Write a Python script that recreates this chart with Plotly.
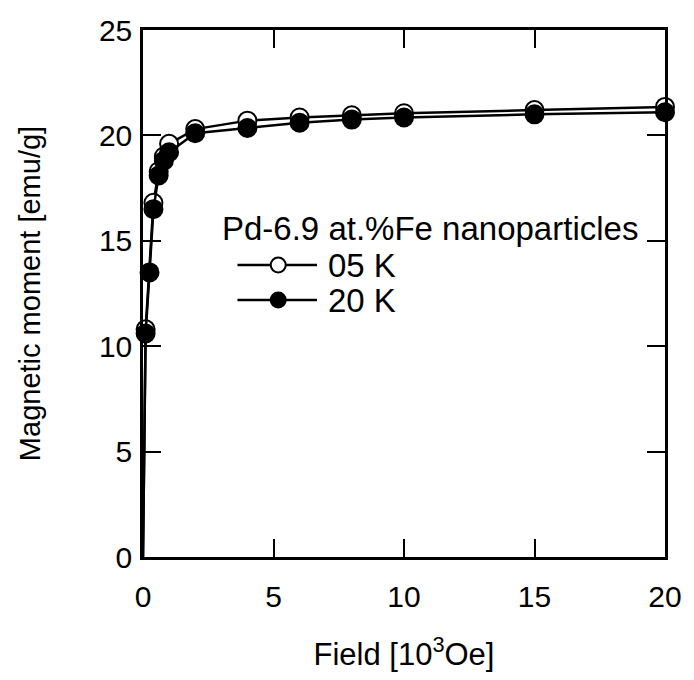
import plotly.graph_objects as go

# Magnetisation curves of Pd-Fe nanoparticles
field_05K = [0, 0.1, 0.4, 0.6, 0.8, 1.0, 2, 4, 6, 8, 10, 15, 20]
moment_05K = [0, 10.8, 16.8, 18.3, 19.0, 19.6, 20.3, 20.7, 20.85, 20.95, 21.05, 21.2, 21.35]

field_20K = [0, 0.1, 0.25, 0.4, 0.6, 0.8, 1.0, 2, 4, 6, 8, 10, 15, 20]
moment_20K = [0, 10.6, 13.5, 16.5, 18.1, 18.8, 19.2, 20.1, 20.35, 20.6, 20.75, 20.85, 21.0, 21.1]

x_ticks = [0, 5, 10, 15, 20]
y_ticks = [0, 5, 10, 15, 20, 25]

legend_title = "Pd-6.9 at.%Fe nanoparticles"
series_names = ["05 K", "20 K"]

FONT = "Liberation Sans, Arial, sans-serif"
MS = 18
fills = ["white", "black"]

fig = go.Figure()

# each curve: a line from the origin, markers on the measured points only
for xs, ys, fill, name in [(field_05K, moment_05K, fills[0], series_names[0]),
                           (field_20K, moment_20K, fills[1], series_names[1])]:
    fig.add_trace(go.Scatter(
        x=xs, y=ys, mode="lines",
        line=dict(color="black", width=2.5),
        showlegend=False, hoverinfo="skip",
    ))
    fig.add_trace(go.Scatter(
        x=xs[1:], y=ys[1:], mode="markers",
        marker=dict(symbol="circle", size=MS, color=fill, opacity=1,
                    line=dict(color="black", width=2)),
        cliponaxis=False, showlegend=False, name=name,
    ))

# hand-drawn legend on an overlay axis measured in plot pixels
L = dict(x0=238, x1=318, xm=279, xt=327, rows=[265, 300], title_y=228, title_x=220)
for name, fill, yy in zip(series_names, fills, L["rows"]):
    fig.add_trace(go.Scatter(
        x=[L["x0"], L["x1"]], y=[yy, yy], mode="lines",
        line=dict(color="black", width=2.5),
        xaxis="x2", yaxis="y2", showlegend=False, hoverinfo="skip",
    ))
    fig.add_trace(go.Scatter(
        x=[L["xm"]], y=[yy], mode="markers",
        marker=dict(symbol="circle", size=15, color=fill, opacity=1,
                    line=dict(color="black", width=2)),
        xaxis="x2", yaxis="y2", showlegend=False, hoverinfo="skip",
    ))
    fig.add_annotation(x=L["xt"], y=yy, xref="x2", yref="y2", text=name,
                       showarrow=False, xanchor="left", yanchor="middle",
                       font=dict(family=FONT, size=33, color="black"))
fig.add_annotation(x=L["title_x"], y=L["title_y"], xref="x2", yref="y2", text=legend_title,
                   showarrow=False, xanchor="left", yanchor="middle",
                   font=dict(family=FONT, size=33, color="black"))

axis_common = dict(
    showline=True, linecolor="black", linewidth=2.5, mirror="ticks",
    ticks="inside", ticklen=18, tickwidth=2, tickcolor="black",
    showgrid=False, zeroline=False,
    tickfont=dict(family=FONT, size=30, color="black"),
)

fig.update_layout(
    width=694, height=680,
    margin=dict(l=143, r=26, t=30, b=123),
    paper_bgcolor="white", plot_bgcolor="white",
    xaxis=dict(range=[0, 20], tickvals=x_ticks, ticklabelstandoff=11,
               title=dict(text="Field [10<sup>3</sup>Oe]", standoff=32,
                          font=dict(family=FONT, size=31, color="black")),
               **axis_common),
    yaxis=dict(range=[0, 25], tickvals=y_ticks, ticklabelstandoff=2,
               title=dict(text="Magnetic moment [emu/g]", standoff=50,
                          font=dict(family=FONT, size=29, color="black")),
               **axis_common),
    xaxis2=dict(overlaying="x", range=[143, 668], visible=False, anchor="y2"),
    yaxis2=dict(overlaying="y", range=[557, 30], visible=False, anchor="x2"),
)

fig.write_html("out.html")
